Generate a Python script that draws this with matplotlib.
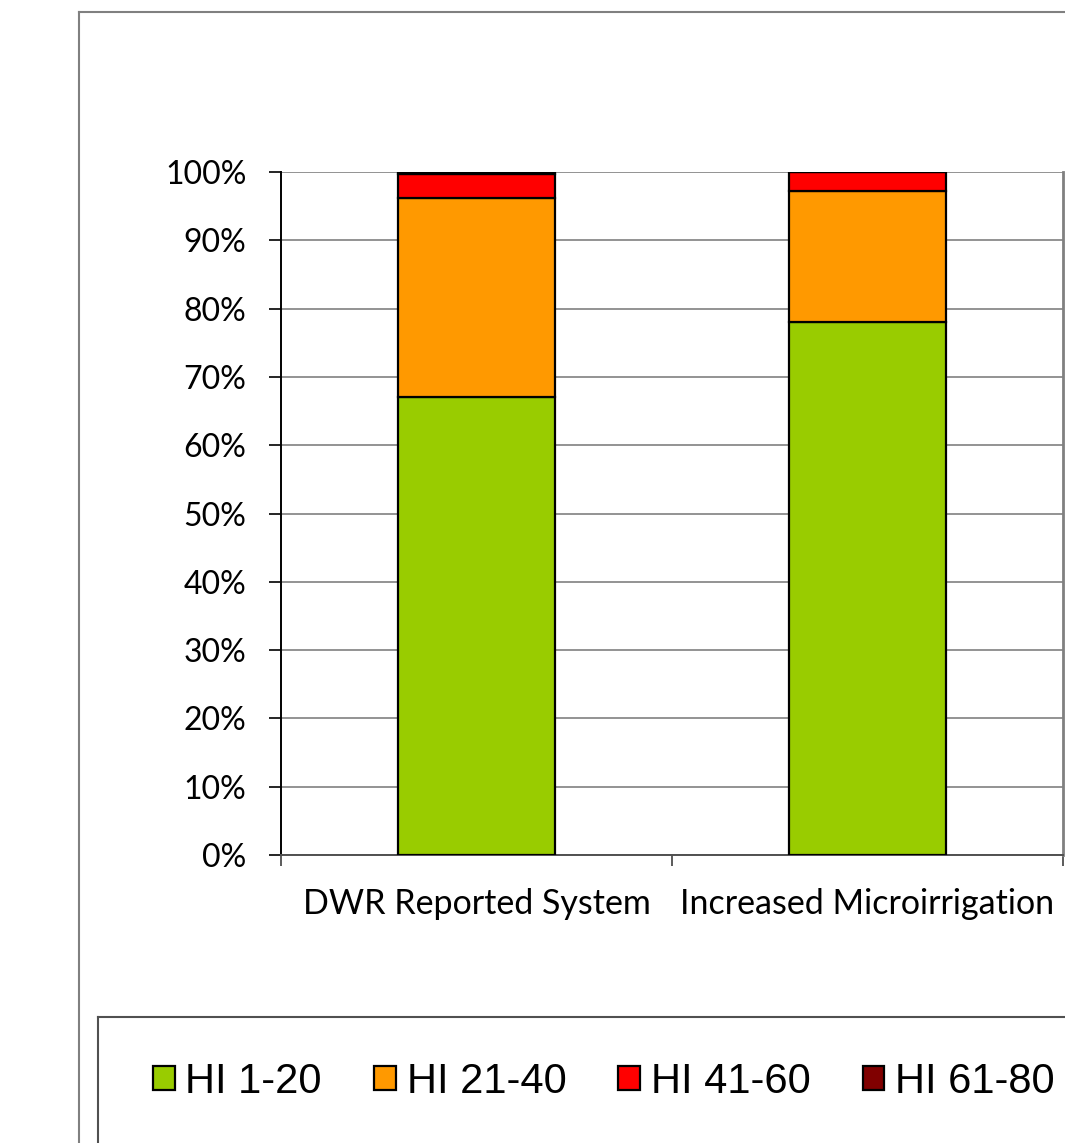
import matplotlib
matplotlib.use("Agg")
import matplotlib.pyplot as plt
from matplotlib.lines import Line2D
from matplotlib.patches import Patch

# share of fields per harvest index class, in percent
systems = ["DWR Reported System", "Increased Microirrigation"]
series_names = ["HI 1-20", "HI 21-40", "HI 41-60", "HI 61-80"]
hi_1_20 = [67.0, 78.0]
hi_21_40 = [29.2, 19.2]
hi_41_60 = [3.5, 2.8]
hi_61_80 = [0.3, 0.0]
series_colors = ["#99CC00", "#FF9900", "#FF0000", "#800000"]
y_ticks = list(range(0, 101, 10))

W, H = 1065, 1143
fig = plt.figure(figsize=(W / 100, H / 100), dpi=100)
ax = fig.add_axes([281 / W, 1 - 855 / H, (1063 - 281) / W, (855 - 172) / H])

x = list(range(len(systems)))
bottom = [0.0] * len(systems)
for vals, color in zip([hi_1_20, hi_21_40, hi_41_60, hi_61_80], series_colors):
    ax.bar(x, vals, width=0.4, bottom=bottom, color=color,
           edgecolor="black", linewidth=1.6, zorder=3)
    bottom = [b + v for b, v in zip(bottom, vals)]

ax.set_xlim(-0.5, 1.5)
ax.set_ylim(0, 100)
ax.set_yticks(y_ticks)
ax.set_yticklabels([f"{v}%" for v in y_ticks], fontfamily="Lato", fontsize=23)
ax.yaxis.grid(True, color="#808080", linewidth=1.2, zorder=0)
ax.tick_params(axis="y", length=9, width=1.2, pad=16, color="black")

# category boundaries carry the tick marks, centres carry the labels
ax.set_xticks([-0.5, 0.5, 1.5])
ax.set_xticklabels([])
ax.set_xticks(x, minor=True)
ax.set_xticklabels(systems, minor=True, fontfamily="Lato", fontsize=24.5)
ax.tick_params(axis="x", which="major", length=8, width=1.2, color="#404040")
ax.tick_params(axis="x", which="minor", length=0, pad=24)

ax.spines["left"].set_color("black")
ax.spines["left"].set_linewidth(1.4)
ax.spines["bottom"].set_color("#505050")
ax.spines["bottom"].set_linewidth(1.4)
ax.spines["right"].set_color("#808080")
ax.spines["right"].set_linewidth(2)
ax.spines["top"].set_visible(False)

# chart frame and legend box, both running off the right/bottom edge
frame = dict(transform=fig.transFigure, clip_on=False)
fig.add_artist(Line2D([79 / W, 1.01], [1 - 12 / H] * 2, color="#808080", lw=1.5, **frame))
fig.add_artist(Line2D([79 / W] * 2, [1 - 12 / H, -0.01], color="#808080", lw=1.5, **frame))
fig.add_artist(Line2D([98 / W, 1.01], [1 - 1017 / H] * 2, color="#505050", lw=1.5, **frame))
fig.add_artist(Line2D([98 / W] * 2, [1 - 1017 / H, -0.01], color="#505050", lw=1.5, **frame))

handles = [Patch(facecolor=c, edgecolor="black", linewidth=1.6) for c in series_colors]
fig.legend(handles, series_names, loc="center", bbox_to_anchor=(0.567, 1 - 1082 / H),
           ncol=4, frameon=False, handlelength=0.52, handleheight=0.52,
           handletextpad=0.26, columnspacing=1.25,
           prop={"family": "Liberation Sans", "size": 30})

fig.savefig("out.png", dpi=100)
